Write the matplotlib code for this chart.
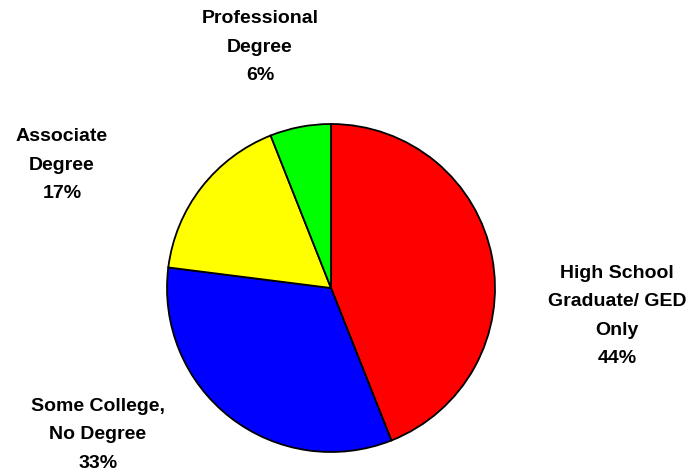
import matplotlib
matplotlib.use("Agg")
import matplotlib.pyplot as plt

categories = ["High School\nGraduate/ GED\nOnly", "Some College,\nNo Degree", "Associate\nDegree", "Professional\nDegree"]
values = [44, 33, 17, 6]
colors = ["#ff0000", "#0000ff", "#ffff00", "#00ff00"]
label_pos = [(617, 316), (98, 435), (62, 165), (260, 47)]

fig = plt.figure(figsize=(7, 4.77), dpi=100)
ax = fig.add_axes([0, 0, 1, 1])

ax.pie(values, colors=colors, startangle=90, counterclock=False,
       center=(331, 477 - 289), radius=164,
       wedgeprops=dict(edgecolor="black", linewidth=1.3), frame=True)
ax.set_xlim(0, 700)
ax.set_ylim(0, 477)
ax.set_aspect("equal")
ax.axis("off")

for cat, v, (x, y) in zip(categories, values, label_pos):
    ax.text(x, 477 - y, f"{cat}\n{v}%", ha="center", va="center",
            fontsize=14, fontweight="bold", family="Liberation Sans",
            linespacing=1.88)

fig.savefig("out.png", dpi=100)
